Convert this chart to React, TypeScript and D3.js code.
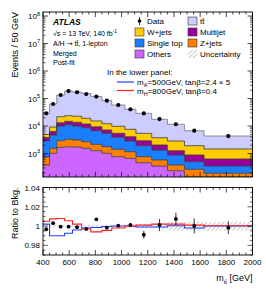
import React from "react";
import * as d3 from "d3";

// bin edges in m_tt [GeV]
const binEdges = [400, 450, 505, 565, 625, 695, 765, 850, 925, 1025, 1110, 1230, 1350, 1480, 1630, 2000];

// stacked backgrounds (events / 50 GeV), bottom to top
const others = [382, 1018, 1683, 1769, 1726, 1547, 1266, 1018, 766, 670, 463, 352, 237, 140, 100];
const zjets = [365, 529, 1237, 1521, 1374, 1143, 894, 751, 657, 494, 303, 229, 145, 127, 91];
const singleTop = [2103, 3163, 7080, 7870, 6900, 5990, 4590, 3661, 2467, 1686, 1158, 761, 501, 237, 161];
const multijet = [970, 1610, 3200, 3680, 3650, 3160, 2690, 1730, 1540, 1240, 996, 698, 383, 379, 280];
const wjets = [1090, 2890, 8600, 8860, 8950, 7240, 5780, 4980, 4330, 3510, 2510, 1720, 1584, 1041, 828];
const ttbar = [24090, 53990, 112400, 163900, 149900, 133120, 103180, 72560, 48340, 32900, 23570, 13790, 8690, 4826, 2870];

const dataCounts = [29000, 63200, 134200, 187000, 169000, 146000, 118000, 83500, 58100, 40500, 28600, 17900, 11600, 6760, 4320];

// lower panel
const dataRatio = [0.9967, 1.003, 0.9994, 0.9994, 0.9988, 0.997, 1.007, 0.9983, 1.0004, 1.0011, 0.991, 1.0011, 1.0074, 1.0001, 0.9983];
const dataRatioErr = [0.0008, 0.0007, 0.0006, 0.0006, 0.0006, 0.0007, 0.0008, 0.001, 0.0012, 0.0016, 0.004, 0.0062, 0.0065, 0.0078, 0.0066];
const uncRel = [0.0015, 0.0015, 0.0012, 0.001, 0.001, 0.0012, 0.0015, 0.0015, 0.002, 0.002, 0.0022, 0.0026, 0.0045, 0.0045, 0.0045];
const sigA500 = [1.002, 0.99, 0.99, 0.9925, 0.996, 0.998, 0.9985, 0.9995, 1.0, 1.0, 0.999, 0.999, 1.0004, 0.998, 1.0];
const sigH800 = [1.005, 1.0075, 1.0078, 1.0055, 1.002, 0.997, 0.994, 0.9955, 0.998, 1.0, 1.001, 1.002, 1.002, 1.001, 1.0004];

const xTicks = [400, 600, 800, 1000, 1200, 1400, 1600, 1800, 2000];
const logExps = [3, 4, 5, 6, 7, 8];
const ratioTicks = [0.98, 1, 1.02, 1.04];
const ratioTickLabels = ["0.98", "1", "1.02", "1.04"];

const layers = [
  { key: "others", name: "Others", values: others, color: "#cc66ff" },
  { key: "zjets", name: "Z+jets", values: zjets, color: "#ff8000" },
  { key: "singletop", name: "Single top", values: singleTop, color: "#1a7fff" },
  { key: "multijet", name: "Multijet", values: multijet, color: "#990099" },
  { key: "wjets", name: "W+jets", values: wjets, color: "#ffcc00" },
  { key: "ttbar", name: "tt\u0304", values: ttbar, color: "#ccccff" },
];

const FONT = "'Liberation Sans', Arial, Helvetica, sans-serif";

export default function App() {
  const W = 266;
  const H = 291;
  const left = 43;
  const right = 252.5;
  const top = 12;
  const bot = 177;
  const rTop = 187.5;
  const rBot = 255;

  const x = d3.scaleLinear().domain([400, 2000]).range([left, right]);
  const y = d3.scaleLog().domain([140, 1.4e8]).range([bot, top]).clamp(true);
  const yr = d3.scaleLinear().domain([0.97, 1.04]).range([rBot, rTop]);

  // stack
  const nBins = binEdges.length - 1;
  const rows = d3.range(nBins).map((i) => {
    const r: any = {};
    layers.forEach((l) => (r[l.key] = l.values[i]));
    return r;
  });
  const stacked = d3.stack().keys(layers.map((l) => l.key))(rows);

  const stepPts = (i: number) => [binEdges[i], binEdges[i + 1]];
  const area = d3
    .area<any>()
    .x((d) => x(d.x))
    .y0((d) => y(Math.max(d.y0, 1)))
    .y1((d) => y(d.y1));
  const topLine = d3
    .line<any>()
    .x((d) => x(d.x))
    .y((d) => y(d.y1));

  const layerPaths = stacked.map((s, li) => {
    const pts: any[] = [];
    s.forEach((d, i) => {
      stepPts(i).forEach((e) => pts.push({ x: e, y0: d[0], y1: d[1] }));
    });
    return { layer: layers[li], area: area(pts), line: topLine(pts) };
  });

  const ratioStep = (vals: number[]) => {
    const pts: [number, number][] = [];
    vals.forEach((v, i) => stepPts(i).forEach((e) => pts.push([x(e), yr(v)])));
    return d3.line()(pts);
  };

  const uncArea = d3
    .area<any>()
    .x((d) => x(d.x))
    .y0((d) => yr(1 - d.u))
    .y1((d) => yr(1 + d.u));
  const uncPts: any[] = [];
  uncRel.forEach((u, i) => stepPts(i).forEach((e) => uncPts.push({ x: e, u })));

  const centers = d3.range(nBins).map((i) => (binEdges[i] + binEdges[i + 1]) / 2);

  // ticks
  const xMinor = d3.range(400, 2001, 50);
  const logMinor: number[] = [];
  for (let e = 2; e <= 8; e++) for (let k = 2; k <= 9; k++) logMinor.push(k * Math.pow(10, e));
  const logMinorIn = logMinor.filter((v) => v >= 140 && v <= 1.4e8);
  const rMinor = d3.range(0.97, 1.0401, 0.005).map((v) => +v.toFixed(3));

  const fs = 8;
  const ink = "#000";

  const xTickMarks = (y0: number, dir: number, keyp: string) => (
    <g key={keyp}>
      {xMinor.map((v) => {
        const major = v % 200 === 0;
        const len = major ? 5 : 2.5;
        return <line key={v} x1={x(v)} x2={x(v)} y1={y0} y2={y0 + dir * len} stroke={ink} strokeWidth={0.7} />;
      })}
    </g>
  );

  return (
    <div style={{ position: "absolute", left: 0, top: 0 }}>
      <svg width={W} height={H} style={{ display: "block", background: "#fff" }} fontFamily={FONT}>
        <defs>
          <clipPath id="upclip">
            <rect x={left} y={top} width={right - left} height={bot - top} />
          </clipPath>
          <pattern id="hatch" patternUnits="userSpaceOnUse" width="3" height="3" patternTransform="rotate(45)">
            <line x1="0" y1="0" x2="0" y2="3" stroke="#888" strokeWidth="0.9" />
          </pattern>
        </defs>

        {/* upper panel stack */}
        <g clipPath="url(#upclip)">
          {layerPaths.map((p) => (
            <path key={p.layer.key} d={p.area || ""} fill={p.layer.color} stroke="none" />
          ))}
          {layerPaths.map((p) => (
            <path
              key={p.layer.key + "l"}
              d={p.line || ""}
              fill="none"
              stroke={p.layer.key === "ttbar" ? "#777" : "#3a3a3a"}
              strokeWidth={0.8}
            />
          ))}
        </g>

        {/* data */}
        {dataCounts.map((v, i) => (
          <circle key={i} cx={x(centers[i])} cy={y(v)} r={2.1} fill="#000" />
        ))}

        {/* upper frame */}
        <rect x={left} y={top} width={right - left} height={bot - top} fill="none" stroke={ink} strokeWidth={0.9} />
        {xTickMarks(bot, -1, "ub")}
        {xTickMarks(top, 1, "ut")}
        {logExps.map((e) => (
          <g key={e}>
            <line x1={left} x2={left + 5} y1={y(Math.pow(10, e))} y2={y(Math.pow(10, e))} stroke={ink} strokeWidth={0.7} />
            <line x1={right} x2={right - 5} y1={y(Math.pow(10, e))} y2={y(Math.pow(10, e))} stroke={ink} strokeWidth={0.7} />
            <text x={left - 3} y={y(Math.pow(10, e)) + 3} fontSize={fs} textAnchor="end">
              10<tspan dy={-3.5} fontSize={5.5}>{e}</tspan>
            </text>
          </g>
        ))}
        {logMinorIn.map((v) => (
          <g key={"m" + v}>
            <line x1={left} x2={left + 2.5} y1={y(v)} y2={y(v)} stroke={ink} strokeWidth={0.6} />
            <line x1={right} x2={right - 2.5} y1={y(v)} y2={y(v)} stroke={ink} strokeWidth={0.6} />
          </g>
        ))}
        <text transform={`translate(18,${top}) rotate(-90)`} fontSize={9} textAnchor="end">
          Events / 50 GeV
        </text>

        {/* ATLAS label */}
        <text x={53} y={25} fontSize={fs + 0.5} fontWeight="bold" fontStyle="italic">ATLAS</text>
        <text x={53} y={36} fontSize={fs - 1}>
          {"\u221As = 13 TeV, 140 fb"}
          <tspan dy={-3} fontSize={5}>-1</tspan>
        </text>
        <text x={53} y={46} fontSize={fs - 1}>
          {"A/H "}
          <tspan fontFamily="'DejaVu Sans', sans-serif">{"\u2192"}</tspan>
          {" tt\u0304, 1-lepton"}
        </text>
        <text x={53} y={55.5} fontSize={fs - 1}>Merged</text>
        <text x={53} y={65} fontSize={fs - 1}>Post-fit</text>

        {/* legend */}
        <g fontSize={fs}>
          <line x1={139.5} x2={139.5} y1={17} y2={25} stroke="#000" strokeWidth={0.8} />
          <circle cx={139.5} cy={21} r={1.8} fill="#000" />
          <text x={147} y={24}>Data</text>
          {[
            { l: layers[4], cx: 135, ty: 32 },
            { l: layers[2], cx: 135, ty: 43 },
            { l: layers[0], cx: 135, ty: 54 },
            { l: layers[5], cx: 188, ty: 21 },
            { l: layers[3], cx: 188, ty: 32 },
            { l: layers[1], cx: 188, ty: 43 },
          ].map(({ l, cx, ty }) => (
            <g key={l.key}>
              <rect x={cx} y={ty - 4} width={9} height={8} fill={l.color} stroke="#333" strokeWidth={0.6} />
              <text x={cx + 12} y={ty + 3}>{l.name}</text>
            </g>
          ))}
          <rect x={188} y={50} width={9} height={8} fill="url(#hatch)" stroke="none" />
          <text x={200} y={57}>Uncertainty</text>
          <text x={107} y={75}>In the lower panel:</text>
          <line x1={117} x2={134} y1={82} y2={82} stroke="#2040ff" strokeWidth={1.2} />
          <text x={137} y={85}>
            m<tspan dy={2} fontSize={5.5}>A</tspan>
            <tspan dy={-2}>{"=500GeV, tan\u03B2=2.4 \u00D7 5"}</tspan>
          </text>
          <line x1={117} x2={134} y1={90.5} y2={90.5} stroke="#ff2020" strokeWidth={1.2} />
          <text x={137} y={93.5}>
            m<tspan dy={2} fontSize={5.5}>H</tspan>
            <tspan dy={-2}>{"=800GeV, tan\u03B2=0.4"}</tspan>
          </text>
        </g>

        {/* lower panel */}
        <path d={uncArea(uncPts) || ""} fill="url(#hatch)" stroke="none" />
        <path d={ratioStep(sigA500) || ""} fill="none" stroke="#2040ff" strokeWidth={1.1} />
        <path d={ratioStep(sigH800) || ""} fill="none" stroke="#ff2020" strokeWidth={1.1} />
        {dataRatio.map((v, i) => (
          <g key={i}>
            <line
              x1={x(centers[i])}
              x2={x(centers[i])}
              y1={yr(v - dataRatioErr[i])}
              y2={yr(v + dataRatioErr[i])}
              stroke="#000"
              strokeWidth={0.8}
            />
            <circle cx={x(centers[i])} cy={yr(v)} r={1.9} fill="#000" />
          </g>
        ))}
        <rect x={left} y={rTop} width={right - left} height={rBot - rTop} fill="none" stroke={ink} strokeWidth={0.9} />
        {xTickMarks(rBot, -1, "lb")}
        {xTickMarks(rTop, 1, "lt")}
        {rMinor.map((v) => {
          const major = ratioTicks.some((t) => Math.abs(t - v) < 1e-6);
          const len = major ? 5 : 2.5;
          return (
            <g key={"r" + v}>
              <line x1={left} x2={left + len} y1={yr(v)} y2={yr(v)} stroke={ink} strokeWidth={0.6} />
              <line x1={right} x2={right - len} y1={yr(v)} y2={yr(v)} stroke={ink} strokeWidth={0.6} />
            </g>
          );
        })}
        {ratioTicks.map((v, i) => (
          <text key={v} x={left - 3} y={yr(v) + 3} fontSize={fs} textAnchor="end">
            {ratioTickLabels[i]}
          </text>
        ))}
        <text transform={`translate(18,${rTop}) rotate(-90)`} fontSize={9} textAnchor="end">
          Ratio to Bkg.
        </text>
        {xTicks.map((v) => (
          <text key={v} x={x(v)} y={265} fontSize={fs} textAnchor="middle">
            {v}
          </text>
        ))}
        <text x={right} y={281} fontSize={9} textAnchor="end">
          m<tspan dy={2.5} fontSize={6}>{"tt\u0304"}</tspan>
          <tspan dy={-2.5}> [GeV]</tspan>
        </text>
      </svg>
    </div>
  );
}
